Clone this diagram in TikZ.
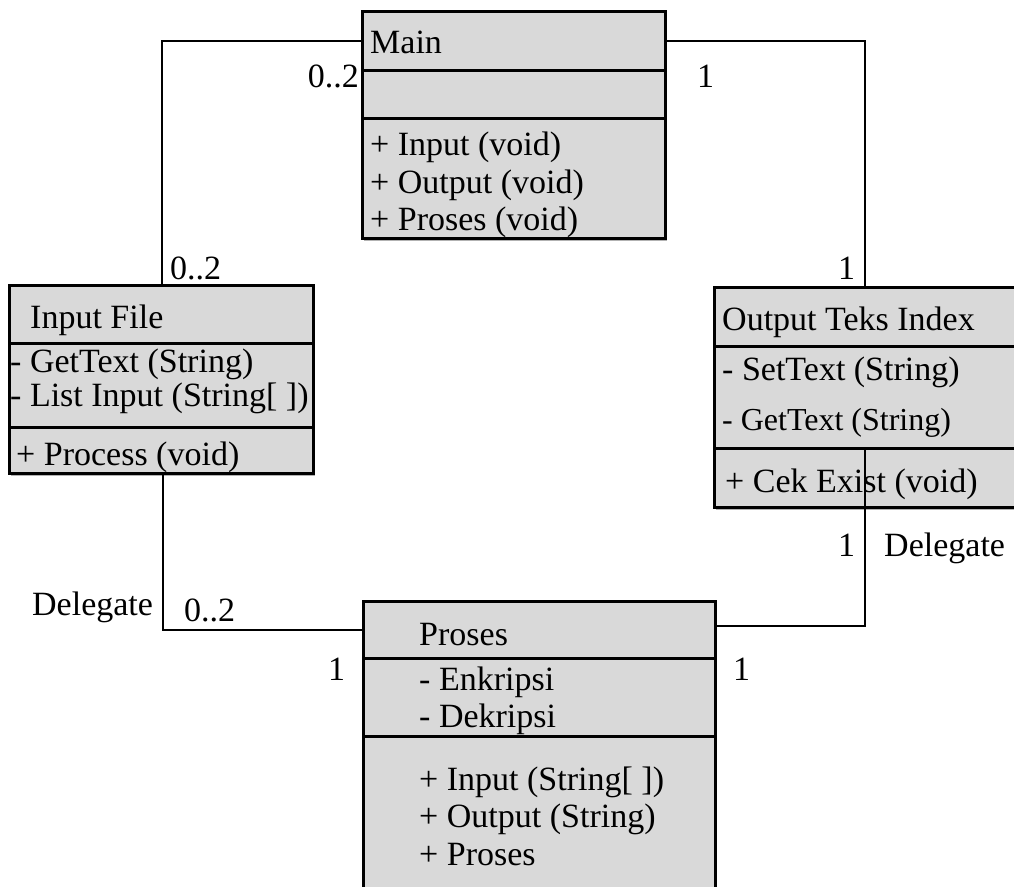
\documentclass[tikz,border=0pt]{standalone}
\usepackage{fontspec}
\setmainfont{Liberation Serif}
\usetikzlibrary{shadows}
\definecolor{boxgray}{RGB}{217,217,217}
\begin{document}
\begin{tikzpicture}[x=1pt,y=-1pt,
  umlbox/.style={draw=black, line width=3pt, fill=boxgray, inner sep=0pt, outer sep=0pt, anchor=north west,
    drop shadow={shadow xshift=2pt, shadow yshift=-2.5pt, fill=black!30, opacity=1}},
  txt/.style={anchor=base west, inner sep=0pt, font=\fontsize{34}{40}\selectfont},
  smalltxt/.style={txt, font=\fontsize{32}{38}\selectfont},
  lbl/.style={txt},
  divider/.style={line width=3pt},
  conn/.style={line width=2.2pt},
]
\useasboundingbox (0,0) rectangle (1014,886);

% ---------- boxes ----------
\node[umlbox, minimum width=303pt, minimum height=227pt] (main) at (362,11) {};
\node[umlbox, minimum width=304pt, minimum height=188pt] (inp) at (9,285) {};
\node[umlbox, minimum width=302pt, minimum height=220pt] (out) at (714,287) {};
\node[umlbox, minimum width=352pt, minimum height=300pt] (pro) at (363,601) {};

% dividers
\draw[divider] (main.west |- 0,70) -- (main.east |- 0,70);
\draw[divider] (main.west |- 0,118) -- (main.east |- 0,118);
\draw[divider] (inp.west |- 0,343) -- (inp.east |- 0,343);
\draw[divider] (inp.west |- 0,427) -- (inp.east |- 0,427);
\draw[divider] (out.west |- 0,346) -- (out.east |- 0,346);
\draw[divider] (out.west |- 0,448) -- (out.east |- 0,448);
\draw[divider] (pro.west |- 0,658) -- (pro.east |- 0,658);
\draw[divider] (pro.west |- 0,736) -- (pro.east |- 0,736);

% ---------- texts ----------
\node[txt] (mainT) at (370,53) {Main};
\node[txt] (mainO1) at (370,155) {+ Input (void)};
\node[txt] (mainO2) at (370,193) {+ Output (void)};
\node[txt] (mainO3) at (370,230) {+ Proses (void)};

\node[txt] (inpT) at (30,328) {Input File};
\node[txt] (inpA1) at (10,372) {- GetText (String)};
\node[txt] (inpA2) at (10,406) {- List Input (String[ ])};
\node[txt] (inpO1) at (16,465) {+ Process (void)};

\node[txt] (outT) at (722,330) {Output Teks Index};
\node[txt] (outA1) at (722,380) {- SetText (String)};
\node[smalltxt] (outA2) at (722,430) {- GetText (String)};
\node[txt] (outO1) at (725,492) {+ Cek Exist (void)};

\node[txt] (proT) at (419,645) {Proses};
\node[txt] (proA1) at (419,690) {- Enkripsi};
\node[txt] (proA2) at (419,727) {- Dekripsi};
\node[txt] (proO1) at (419,790) {+ Input (String[ ])};
\node[txt] (proO2) at (419,827) {+ Output (String)};
\node[txt] (proO3) at (419,865) {+ Proses};

% ---------- connectors ----------
\coordinate (c1) at (162,41);
\coordinate (c2) at (865,41);
\coordinate (c3) at (163,630);
\coordinate (c4) at (865,626);
\coordinate (c4top) at (865,448);

\draw[conn] (main.west |- c1) -- (c1) -- (c1 |- inp.north);
\draw[conn] (main.east |- c2) -- (c2) -- (c2 |- out.north);
\draw[conn] (c3 |- inp.south) -- (c3) -- (pro.west |- c3);
\draw[conn] (pro.east |- c4) -- (c4) -- (c4top);

% ---------- multiplicity labels ----------
\node[lbl, anchor=base east] (l1) at (359,87) {0..2};
\node[lbl] (l2) at (697,87) {1};
\node[lbl] (l3) at (170,279) {0..2};
\node[lbl] (l4) at (838,279) {1};
\node[lbl] (l5) at (838,556) {1};
\node[lbl] (l6) at (884,556) {Delegate};
\node[lbl] (l7) at (32,615) {Delegate};
\node[lbl] (l8) at (184,621) {0..2};
\node[lbl] (l9) at (328,680) {1};
\node[lbl] (l10) at (733,680) {1};
\end{tikzpicture}
\end{document}
